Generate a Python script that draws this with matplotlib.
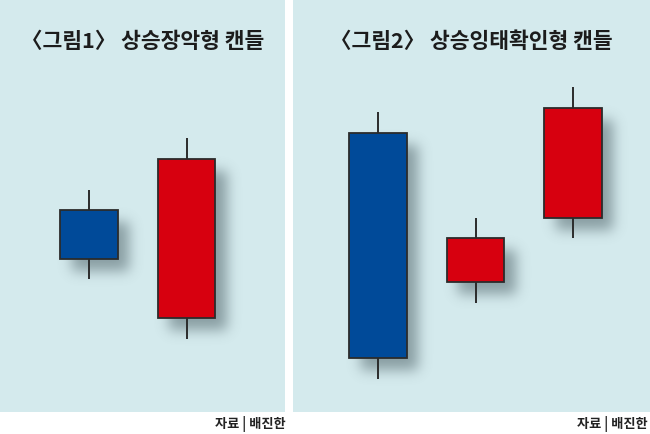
import numpy as np
import matplotlib
matplotlib.use("Agg")
import matplotlib.pyplot as plt

plt.rcParams['font.family'] = ['Noto Sans CJK KR', 'DejaVu Sans']

# candle data (price units), Korean colour convention: red = up, blue = down
titles = ['〈그림1〉 상승장악형 캔들', '〈그림2〉 상승잉태확인형 캔들']
source = '자료 | 배진한'

p1_open = [20.2, 9.4]
p1_close = [15.3, 25.3]
p1_high = [22.2, 27.4]
p1_low = [13.3, 7.3]

p2_open = [27.9, 13.0, 19.4]
p2_close = [5.4, 17.4, 30.4]
p2_high = [30.0, 19.4, 32.5]
p2_low = [3.3, 10.9, 17.4]

BG = '#d4eaed'
RED = '#d7000f'
BLUE = '#004a99'
EDGE = '#2b2b2b'
W, H = 650, 434


def gauss_blur(img, sigma):
    r = int(3 * sigma)
    k = np.exp(-0.5 * (np.arange(-r, r + 1) / sigma) ** 2)
    k /= k.sum()
    img = np.apply_along_axis(lambda v: np.convolve(v, k, mode='same'), 0, img)
    img = np.apply_along_axis(lambda v: np.convolve(v, k, mode='same'), 1, img)
    return img


def draw_panel(ax, opens, closes, highs, lows, width=0.585):
    x = np.arange(len(opens))
    opens, closes = np.array(opens), np.array(closes)
    bottoms = np.minimum(opens, closes)
    heights = np.abs(closes - opens)
    colors = [RED if c > o else BLUE for o, c in zip(opens, closes)]

    # soft drop shadow under the bodies
    bb = ax.get_window_extent()
    pw, ph = int(round(bb.width)), int(round(bb.height))
    mask = np.zeros((ph, pw))
    off = 12
    for xi, b, h in zip(x, bottoms, heights):
        (x0, y0), (x1, y1) = ax.transData.transform([(xi - width / 2, b), (xi + width / 2, b + h)])
        x0, x1 = x0 - bb.x0 + off, x1 - bb.x0 + off
        y0, y1 = y0 - bb.y0 - off, y1 - bb.y0 - off
        mask[max(int(y0), 0):int(y1), max(int(x0), 0):int(x1)] = 1
    alpha = gauss_blur(mask, 6.5) * 0.55
    rgba = np.zeros((ph, pw, 4))
    rgba[..., 0], rgba[..., 1], rgba[..., 2] = 0.30, 0.38, 0.40
    rgba[..., 3] = alpha
    ax.imshow(rgba, origin='lower', extent=(*ax.get_xlim(), *ax.get_ylim()),
              aspect='auto', interpolation='bilinear', zorder=1)

    ax.vlines(x, lows, highs, color=EDGE, lw=1.4, zorder=2)
    ax.bar(x, heights, bottom=bottoms, width=width, color=colors,
           edgecolor=EDGE, linewidth=1.3, zorder=3)


fig = plt.figure(figsize=(W / 100, H / 100), dpi=100)
fig.patch.set_facecolor('white')

bot = (H - 412) / H
ax1 = fig.add_axes([0, bot, 285 / W, 1 - bot])
ax2 = fig.add_axes([293 / W, bot, (W - 293) / W, 1 - bot])

ax1.set_xlim(-89 / 97.5, (285 - 89) / 97.5)
ax2.set_xlim((293 - 378) / 97.5, (650 - 378) / 97.5)
for ax in (ax1, ax2):
    ax.set_ylim(0, 41.2)
    ax.set_facecolor(BG)
    ax.set_axis_off()
    ax.add_patch(plt.Rectangle((0, 0), 1, 1, transform=ax.transAxes,
                               color=BG, zorder=0))

draw_panel(ax1, p1_open, p1_close, p1_high, p1_low)
draw_panel(ax2, p2_open, p2_close, p2_high, p2_low)

fig.text(142.5 / W, 1 - 42 / H, titles[0], ha='center', va='center',
         fontsize=15.5, fontweight='bold', color='#1c1c1c')
fig.text(471.5 / W, 1 - 42 / H, titles[1], ha='center', va='center',
         fontsize=15.5, fontweight='bold', color='#1c1c1c')

fig.text(286 / W, (H - 424) / H, source, ha='right', va='center',
         fontsize=9.5, fontweight='bold', color='#222222')
fig.text(648 / W, (H - 424) / H, source, ha='right', va='center',
         fontsize=9.5, fontweight='bold', color='#222222')

fig.savefig('out.png', dpi=100, facecolor='white')
